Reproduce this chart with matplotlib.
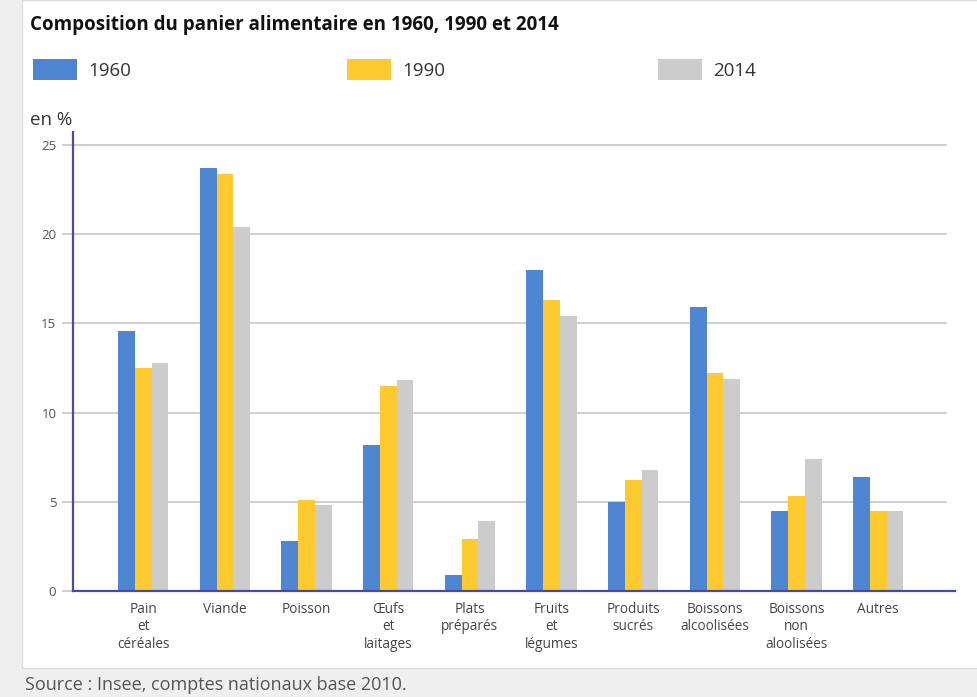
import numpy as np
import matplotlib
matplotlib.use("Agg")
import matplotlib.pyplot as plt
from matplotlib.patches import Rectangle

plt.rcParams['font.family'] = ['Open Sans', 'DejaVu Sans']

# données (en %)
categories = ["Pain\net\ncéréales", "Viande", "Poisson", "Œufs\net\nlaitages",
              "Plats\npréparés", "Fruits\net\nlégumes", "Produits\nsucrés",
              "Boissons\nalcoolisées", "Boissons\nnon\naloolisées", "Autres"]
years = ["1960", "1990", "2014"]
v1960 = [14.6, 23.7, 2.8, 8.2, 0.9, 18.0, 5.0, 15.9, 4.5, 6.4]
v1990 = [12.5, 23.4, 5.1, 11.5, 2.9, 16.3, 6.2, 12.2, 5.3, 4.5]
v2014 = [12.8, 20.4, 4.8, 11.8, 3.9, 15.4, 6.8, 11.9, 7.4, 4.5]
yticks = [0, 5, 10, 15, 20, 25]

colors = ["#4F86D2", "#FFCA30", "#CCCCCC"]
axis_col = "#4A4AA6"

W, H = 978, 697
fig = plt.figure(figsize=(W / 100, H / 100), dpi=100)
fig.patch.set_facecolor("#EFEFEF")

# panneau blanc
fig.patches.append(Rectangle((22 / W, (H - 668) / H), 1 - 22 / W, 668 / H,
                             transform=fig.transFigure, facecolor="white",
                             edgecolor="#DDDDDD", lw=1, zorder=0))

ax = fig.add_axes([73 / W, (H - 591) / H, (955 - 73) / W, (591 - 132) / H])
ax.set_facecolor("none")
ax.set_zorder(5)

x = np.arange(len(categories))
bw = 0.205
for i, (vals, c) in enumerate(zip([v1960, v1990, v2014], colors)):
    ax.bar(x + (i - 1) * bw, vals, width=bw, color=c, zorder=3)

ax.set_xlim(-0.86, 9.94)
ax.set_ylim(0, 25 * (591 - 132) / (591 - 145))
for t in yticks[1:]:
    ax.axhline(t, xmin=0, xmax=(946 - 73) / 882, color="#CCCCCC", lw=1.3, zorder=1)

ax.set_yticks(yticks)
ax.set_yticklabels([str(t) for t in yticks], fontsize=9.5, color="#555555")
ax.tick_params(axis="y", length=8, color="#CCCCCC", width=1.3, pad=4)
ax.set_xticks(x)
ax.set_xticklabels(categories, fontsize=9.8, color="#444444", linespacing=1.2, va="top")
ax.tick_params(axis="x", length=0, pad=8)

for s in ["top", "right"]:
    ax.spines[s].set_visible(False)
for s in ["left", "bottom"]:
    ax.spines[s].set_color(axis_col)
    ax.spines[s].set_linewidth(1.6)
    ax.spines[s].set_zorder(4)

# titre et légende
fig.text(30 / W, 1 - 25 / H, "Composition du panier alimentaire en 1960, 1990 et 2014",
         fontsize=13.5, fontweight="bold", color="#111111", va="center", ha="left")
leg_x = [33, 347, 658]
for lx, yr, c in zip(leg_x, years, colors):
    fig.patches.append(Rectangle((lx / W, 1 - 80 / H), 44 / W, 21 / H,
                                 transform=fig.transFigure, facecolor=c, edgecolor="none"))
    fig.text((lx + 55) / W, 1 - 71 / H, yr, fontsize=13.5, color="#333333",
             va="center", ha="left")

fig.text(30 / W, 1 - 120 / H, "en %", fontsize=13.5, color="#333333", va="center", ha="left")
fig.text(25 / W, 1 - 685 / H, "Source : Insee, comptes nationaux base 2010.",
         fontsize=13, color="#555555", va="center", ha="left")

fig.savefig("out.png", dpi=100, facecolor=fig.get_facecolor())
